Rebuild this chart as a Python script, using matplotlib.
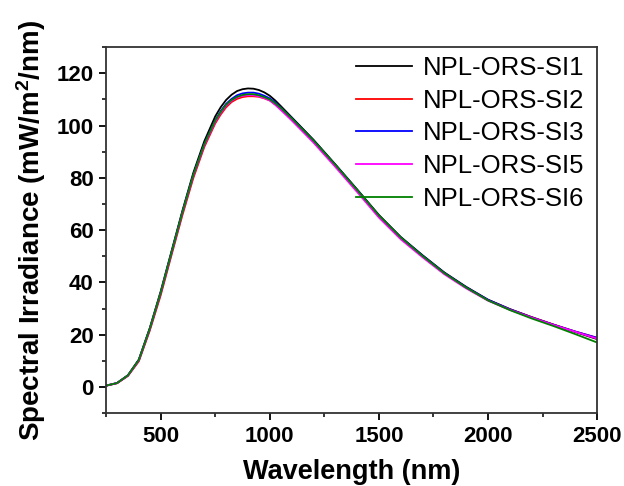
import numpy as np
from matplotlib import pyplot as plt

plt.rcParams["font.family"] = ["Liberation Sans", "DejaVu Sans"]
plt.rcParams["mathtext.fontset"] = "custom"
plt.rcParams["mathtext.rm"] = "Liberation Sans:bold"
plt.rcParams["mathtext.it"] = "Liberation Sans:bold"
plt.rcParams["mathtext.bf"] = "Liberation Sans:bold"

# wavelength grid (nm)
wavelength = [250, 300, 350, 400, 450, 500, 550, 600, 650, 700, 750, 775, 800,
              825, 850, 875, 900, 925, 950, 975, 1000, 1025, 1050, 1100, 1200,
              1300, 1400, 1500, 1600, 1700, 1800, 1900, 2000, 2100, 2200, 2300,
              2400, 2500]

si1 = [0.5, 1.5, 4.5, 10.5, 22.5, 36.5, 52.0, 67.5, 82.0, 94.0, 103.5, 107.0,
       109.8, 111.8, 113.2, 113.9, 114.2, 114.1, 113.6, 112.7, 111.4, 109.6,
       107.5, 103.2, 94.6, 85.2, 75.6, 65.8, 57.4, 50.4, 43.8, 38.3, 33.4,
       29.8, 26.7, 23.8, 21.0, 18.3]
si2 = [0.5, 1.4, 4.2, 9.8, 21.5, 35.0, 50.5, 65.8, 80.0, 91.8, 100.8, 104.2,
       107.0, 109.0, 110.2, 110.9, 111.2, 111.2, 111.0, 110.4, 109.6, 108.1,
       106.4, 102.6, 94.0, 84.8, 75.2, 65.3, 57.0, 50.0, 43.5, 38.0, 33.2,
       29.7, 26.7, 23.9, 21.2, 18.8]
si3 = [0.5, 1.5, 4.4, 10.3, 22.2, 36.0, 51.5, 67.0, 81.2, 93.0, 102.0, 105.5,
       108.3, 110.2, 111.6, 112.3, 112.6, 112.6, 112.2, 111.4, 110.4, 108.8,
       106.9, 102.9, 94.3, 85.0, 75.4, 65.5, 57.2, 50.2, 43.6, 38.1, 33.3,
       29.7, 26.6, 23.8, 21.2, 18.8]
si5 = [0.5, 1.5, 4.3, 10.1, 22.0, 35.8, 51.2, 66.6, 80.8, 92.4, 101.4, 104.8,
       107.6, 109.5, 110.8, 111.4, 111.6, 111.6, 111.2, 110.5, 109.6, 107.9,
       106.0, 102.0, 93.5, 84.2, 74.6, 64.8, 56.5, 49.6, 43.1, 37.7, 33.0,
       29.5, 26.5, 23.7, 21.1, 18.5]
si6 = [0.5, 1.5, 4.4, 10.3, 22.2, 36.0, 51.5, 66.9, 81.2, 92.9, 101.9, 105.2,
       108.0, 109.8, 111.0, 111.7, 112.0, 112.0, 111.6, 110.9, 110.0, 108.5,
       106.8, 102.8, 94.3, 85.0, 75.4, 65.6, 57.2, 50.1, 43.5, 38.0, 33.1,
       29.4, 26.2, 23.3, 20.2, 17.0]

labels = ["NPL-ORS-SI1", "NPL-ORS-SI2", "NPL-ORS-SI3", "NPL-ORS-SI5", "NPL-ORS-SI6"]
colors = ["black", "#ff0000", "#0000ff", "#ff00ff", "#008000"]

fig = plt.figure(figsize=(6.24, 4.86), dpi=100)
ax = fig.add_axes([0.170, 0.150, 0.787, 0.753])

for ys, lab, c in zip([si1, si2, si3, si5, si6], labels, colors):
    ax.plot(wavelength, ys, color=c, lw=1.3, label=lab)

ax.set_xlim(250, 2500)
ax.set_ylim(-10, 130)
ax.set_xticks([500, 1000, 1500, 2000, 2500])
ax.set_xticks(np.arange(250, 2501, 250), minor=True)
ax.set_yticks(np.arange(0, 121, 20))
ax.set_yticks(np.arange(-10, 131, 10), minor=True)
ax.tick_params(which="major", direction="out", length=5, width=1.3,
               labelsize=16, pad=4)
ax.tick_params(which="minor", direction="out", length=3, width=1.1)
for lab in ax.get_xticklabels() + ax.get_yticklabels():
    lab.set_fontweight("bold")
for sp in ax.spines.values():
    sp.set_linewidth(1.3)
    sp.set_color("#333333")

ax.set_xlabel("Wavelength (nm)", fontsize=19.5, fontweight="bold", labelpad=9)
ax.set_ylabel("Spectral Irradiance (mW/m$^2$/nm)", fontsize=20,
              fontweight="bold", labelpad=6)

ax.legend(loc="upper right", frameon=False, fontsize=18.5, handlelength=2.2,
          handletextpad=0.4, labelspacing=0.34, borderaxespad=0.0,
          bbox_to_anchor=(0.994, 1.004))

fig.savefig("out.png", dpi=100)
